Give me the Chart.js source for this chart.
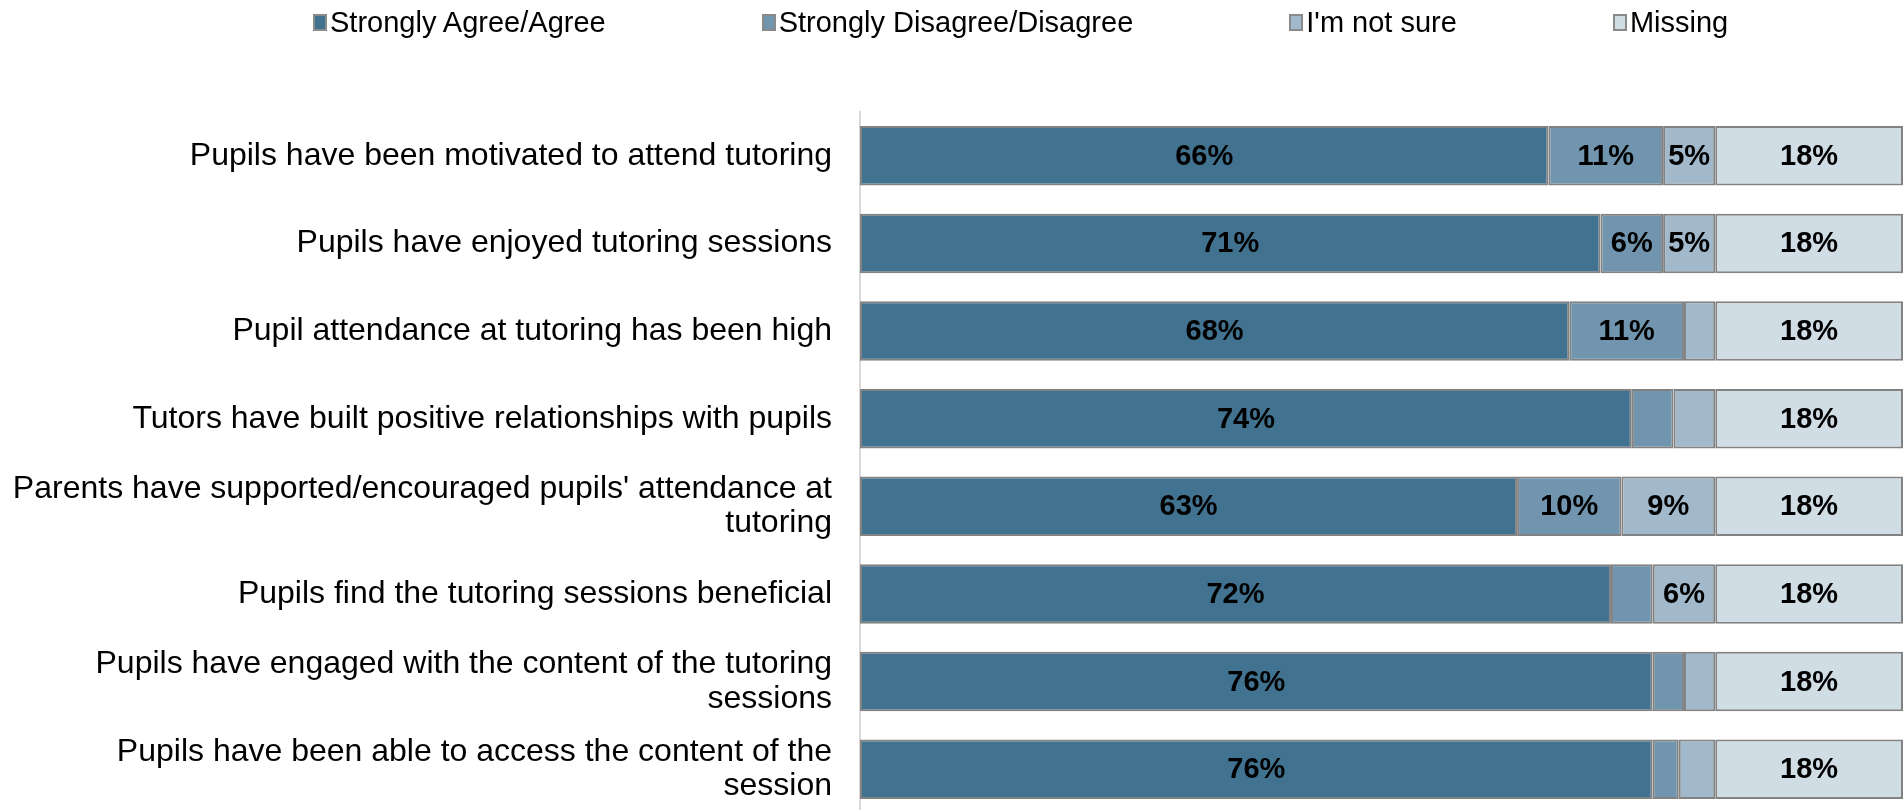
<!DOCTYPE html>
<html lang="en">
<head>
    <meta charset="UTF-8">
    <title>Tutoring survey responses</title>
    <style>
        body {
            margin: 0;
            width: 1903px;
            height: 810px;
            overflow: hidden;
            background: #fff;
            font-family: "Liberation Sans", Arial, sans-serif;
            position: relative;
        }
        #legend {
            position: absolute;
            left: 313px;
            top: 5px;
            display: flex;
            gap: 156px;
            font-size: 29px;
            line-height: 34px;
            color: #000;
            z-index: 2;
        }
        #legend .item {
            display: flex;
            align-items: center;
            white-space: nowrap;
        }
        #legend .box {
            width: 10px;
            height: 13px;
            border: 2px solid #8a8a8a;
            margin-right: 3px;
        }
        #chartWrap {
            position: absolute;
            left: 0;
            top: 0;
        }
    </style>
</head>
<body>
    <div id="legend"></div>
    <div id="chartWrap">
        <canvas id="surveyChart" width="1903" height="814"></canvas>
    </div>

    <script src="https://cdn.jsdelivr.net/npm/chart.js"></script>
    <script>
        var categories = [
            "Pupils have been motivated to attend tutoring",
            "Pupils have enjoyed tutoring sessions",
            "Pupil attendance at tutoring has been high",
            "Tutors have built positive relationships with pupils",
            ["Parents have supported/encouraged pupils' attendance at", "tutoring"],
            "Pupils find the tutoring sessions beneficial",
            ["Pupils have engaged with the content of the tutoring", "sessions"],
            ["Pupils have been able to access the content of the", "session"]
        ];

        var seriesNames = ["Strongly Agree/Agree", "Strongly Disagree/Disagree", "I'm not sure", "Missing"];
        var agree = [66, 71, 68, 74, 63, 72, 76, 76];
        var disagree = [11, 6, 11, 4, 10, 4, 3, 2.5];
        var notSure = [5, 5, 3, 4, 9, 6, 3, 3.5];
        var missing = [18, 18, 18, 18, 18, 18, 18, 18];

        var colours = ['#41728f', '#7195ae', '#a1b9ca', '#d0dde5'];
        var values = [agree, disagree, notSure, missing];

        var datasets = seriesNames.map(function(name, i) {
            return {
                label: name,
                data: values[i],
                backgroundColor: colours[i],
                borderColor: '#828282',
                borderWidth: 2,
                borderSkipped: false,
                categoryPercentage: 1,
                barPercentage: 0.68
            };
        });

        // percentage labels in the middle of each segment (only the wider ones)
        var segmentLabels = {
            id: 'segmentLabels',
            afterDatasetsDraw: function(chart) {
                var ctx = chart.ctx;
                ctx.save();
                ctx.font = 'bold 29px "Liberation Sans", Arial, sans-serif';
                ctx.fillStyle = '#000';
                ctx.textAlign = 'center';
                ctx.textBaseline = 'middle';
                chart.data.datasets.forEach(function(ds, i) {
                    chart.getDatasetMeta(i).data.forEach(function(bar, j) {
                        var v = ds.data[j];
                        if (v < 5) return;
                        ctx.fillText(v + '%', (bar.x + bar.base) / 2, bar.y + 1);
                    });
                });
                ctx.restore();
            }
        };

        var ctx = document.getElementById('surveyChart').getContext('2d');
        var surveyChart = new Chart(ctx, {
            type: 'bar',
            data: {
                labels: categories,
                datasets: datasets
            },
            plugins: [segmentLabels],
            options: {
                indexAxis: 'y',
                responsive: false,
                animation: false,
                devicePixelRatio: 1,
                layout: {
                    padding: { top: 112, bottom: 1, left: 0, right: 0 }
                },
                plugins: {
                    legend: { display: false },
                    tooltip: { enabled: false }
                },
                scales: {
                    x: {
                        stacked: true,
                        min: 0,
                        max: 100,
                        display: false
                    },
                    y: {
                        stacked: true,
                        grid: { display: false },
                        border: { display: true, color: '#d9d9d9', width: 2 },
                        afterFit: function(scale) {
                            // fixed label column, and no extra room for the two-line labels
                            scale.width = 860;
                            scale.paddingTop = 0;
                            scale.paddingBottom = 0;
                        },
                        ticks: {
                            autoSkip: false,
                            padding: 20,
                            color: '#000',
                            font: { family: '"Liberation Sans", Arial, sans-serif', size: 32, lineHeight: 1.07 }
                        }
                    }
                }
            }
        });

        // html legend built from the datasets
        var legendEl = document.getElementById('legend');
        surveyChart.data.datasets.forEach(function(ds) {
            var item = document.createElement('div');
            item.className = 'item';
            var box = document.createElement('span');
            box.className = 'box';
            box.style.background = ds.backgroundColor;
            var text = document.createElement('span');
            text.textContent = ds.label;
            item.appendChild(box);
            item.appendChild(text);
            legendEl.appendChild(item);
        });
    </script>
</body>
</html>
